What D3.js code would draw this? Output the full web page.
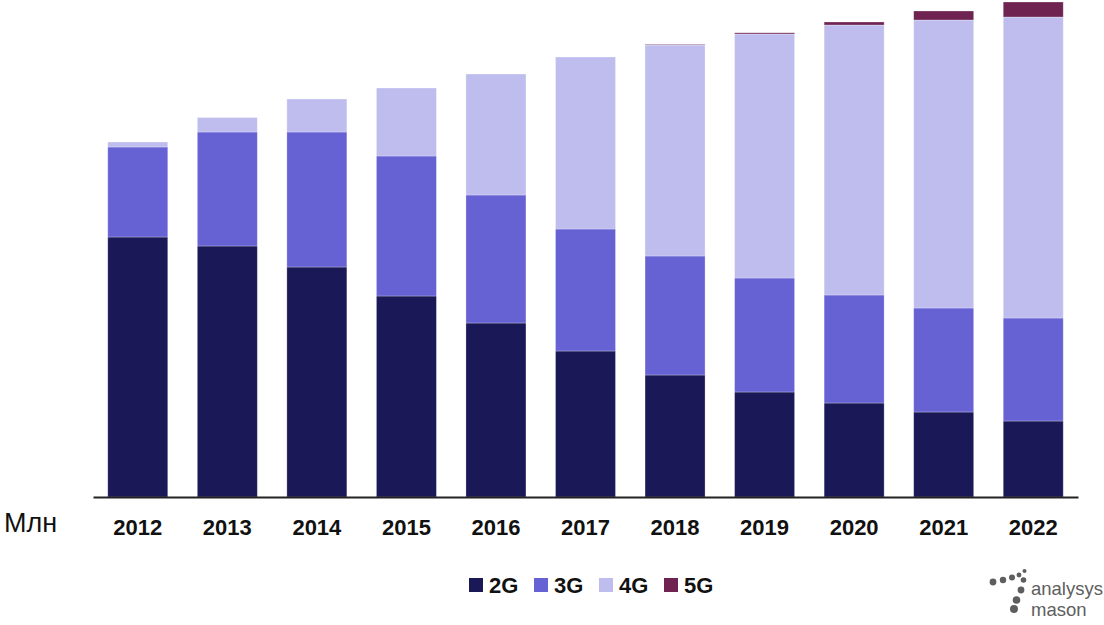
<!DOCTYPE html>
<html>
<head>
<meta charset="utf-8">
<script src="https://cdn.jsdelivr.net/npm/d3@7"></script>
<style>
  body { margin: 0; background: #fff; }
  svg { display: block; }
</style>
</head>
<body>
<div id="chart"></div>
<script>
// Size
const WIDTH = 1104;
const HEIGHT = 625;

// Data (Млн)
const years = ["2012", "2013", "2014", "2015", "2016", "2017", "2018", "2019", "2020", "2021", "2022"];
const series = ["2G", "3G", "4G", "5G"];
const v2G = [260, 251, 230, 201, 174, 146, 122, 105, 94, 85, 76];
const v3G = [90, 114, 135, 140, 128, 122, 119, 114, 108, 104, 103];
const v4G = [5, 14.5, 33, 68, 121, 172, 211, 244, 270, 288, 301];
const v5G = [0, 0, 0, 0, 0, 0, 0.6, 1.2, 3, 9, 15];
const colors = ["#1a1856", "#6762d3", "#bfbdee", "#6e2350"];

// Table for the stack
const table = years.map((y, i) => ({
  year: y, "2G": v2G[i], "3G": v3G[i], "4G": v4G[i], "5G": v5G[i]
}));

const svg = d3
  .select("#chart")
  .append("svg")
  .attr("width", WIDTH)
  .attr("height", HEIGHT);

// Scales
const xScale = d3
  .scaleBand()
  .domain(years)
  .range([93, 1078])
  .paddingInner(0.33)
  .paddingOuter(0.165);

const yScale = d3
  .scaleLinear()
  .domain([0, 495])
  .range([497, 2]);

const colorScale = d3.scaleOrdinal().domain(series).range(colors);

const stacked = d3.stack().keys(series)(table);

// Bars
svg
  .append("g")
  .selectAll("g")
  .data(stacked)
  .enter()
  .append("g")
  .attr("fill", (d) => colorScale(d.key))
  .selectAll("rect")
  .data((d) => d)
  .enter()
  .append("rect")
  .attr("x", (d) => xScale(d.data.year))
  .attr("y", (d) => yScale(d[1]))
  .attr("width", xScale.bandwidth())
  .attr("height", (d) => yScale(d[0]) - yScale(d[1]))
  .attr("stroke", "#ffffff")
  .attr("stroke-opacity", 0.35)
  .attr("stroke-width", 0.8);

// X axis
const xAxis = d3.axisBottom(xScale).tickSize(0).tickPadding(22);

const gx = svg
  .append("g")
  .attr("transform", "translate(0, 497)")
  .call(xAxis);

gx.select(".domain").attr("stroke", "#222").attr("stroke-width", 2);
gx.selectAll("text")
  .attr("font-family", "Liberation Sans, Arial, sans-serif")
  .attr("font-size", 22)
  .attr("font-weight", "bold")
  .attr("fill", "#111");

// Unit label
svg
  .append("text")
  .attr("x", 4)
  .attr("y", 532)
  .attr("font-family", "Liberation Sans, Arial, sans-serif")
  .attr("font-size", 27)
  .attr("fill", "#111")
  .text("Млн");

// Legend
const legend = svg
  .append("g")
  .selectAll("g")
  .data(series)
  .enter()
  .append("g")
  .attr("transform", (d, i) => "translate(" + (469 + i * 65) + ", 578)");

legend
  .append("rect")
  .attr("width", 14)
  .attr("height", 14)
  .attr("fill", (d) => colorScale(d));

legend
  .append("text")
  .attr("x", 20)
  .attr("y", 15)
  .attr("font-family", "Liberation Sans, Arial, sans-serif")
  .attr("font-size", 22)
  .attr("font-weight", "bold")
  .attr("fill", "#111")
  .text((d) => d);

// Logo
const logo = svg.append("g").attr("fill", "#5e5e5e");
const dots = [
  [993, 582, 3.4], [1003, 580, 3.2], [1012, 577.5, 3], [1019, 575, 2.4],
  [1024.5, 571, 2], [1023.5, 580, 2.8], [1021, 590, 3.4], [1016.5, 600, 3.8],
  [1014, 609, 4]
];
logo
  .selectAll("circle")
  .data(dots)
  .enter()
  .append("circle")
  .attr("cx", (d) => d[0])
  .attr("cy", (d) => d[1])
  .attr("r", (d) => d[2]);

logo
  .append("text")
  .attr("x", 1031)
  .attr("y", 595)
  .attr("font-family", "Liberation Sans, Arial, sans-serif")
  .attr("font-size", 18.5)
  .text("analysys");

logo
  .append("text")
  .attr("x", 1031)
  .attr("y", 616)
  .attr("font-family", "Liberation Sans, Arial, sans-serif")
  .attr("font-size", 18.5)
  .text("mason");
</script>
</body>
</html>
